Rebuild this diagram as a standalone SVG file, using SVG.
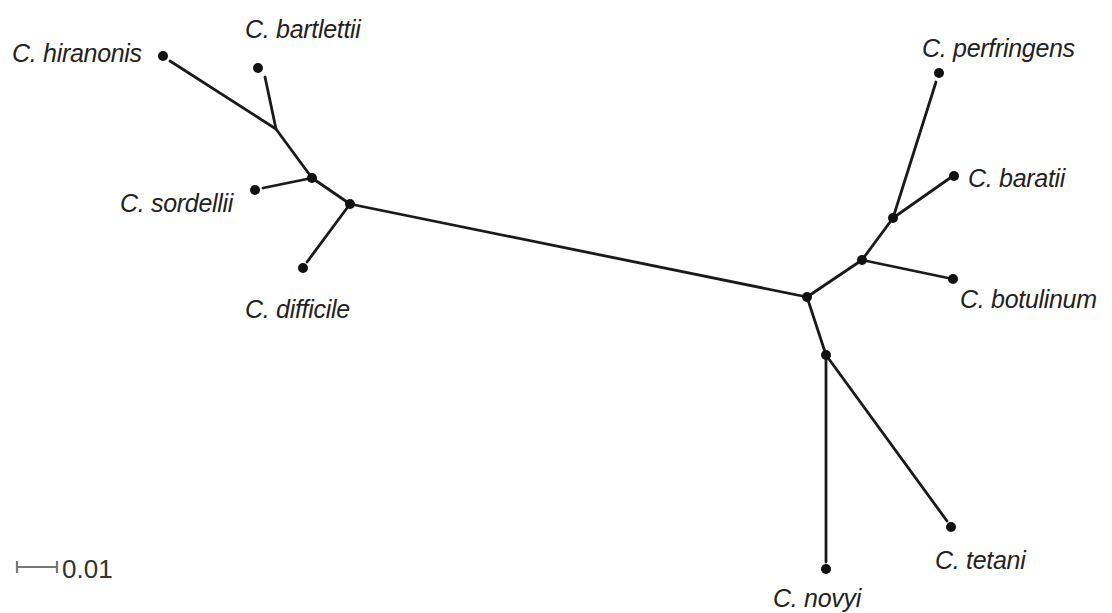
<svg xmlns="http://www.w3.org/2000/svg" width="1112" height="613" viewBox="0 0 1112 613">
<style>
.e{stroke:#1a1a1a;stroke-width:2.8;fill:none;stroke-linecap:round;stroke-linejoin:round}
.d{fill:#111}
.t{font-family:"Liberation Sans",Arial,sans-serif;font-style:italic;font-size:25px;fill:#222;letter-spacing:-0.3px}
.s{font-family:"Liberation Sans",Arial,sans-serif;font-size:26px;fill:#333}
</style>
<rect width="1112" height="613" fill="#fff"/>
<g id="connectors">
<polyline class="e" points="170,61 276,129 312,178"/>
<line class="e" x1="265" y1="77" x2="276" y2="129"/>
<line class="e" x1="263" y1="188" x2="312" y2="178"/>
<line class="e" x1="312" y1="178" x2="350" y2="204"/>
<line class="e" x1="350" y1="204" x2="307" y2="262"/>
<line class="e" x1="350" y1="204" x2="807" y2="297"/>
<line class="e" x1="807" y1="297" x2="862" y2="260"/>
<line class="e" x1="862" y1="260" x2="893" y2="218"/>
<line class="e" x1="893" y1="218" x2="936" y2="82"/>
<line class="e" x1="893" y1="218" x2="950" y2="178"/>
<line class="e" x1="862" y1="260" x2="948" y2="278"/>
<line class="e" x1="807" y1="297" x2="826" y2="355"/>
<line class="e" x1="826" y1="355" x2="826" y2="562"/>
<line class="e" x1="826" y1="355" x2="947" y2="521"/>
</g>
<g id="n-hiranonis"><circle class="d" cx="163" cy="56" r="5"/><text class="t" x="12" y="62">C. hiranonis</text></g>
<g id="n-bartlettii"><circle class="d" cx="258" cy="68" r="5"/><text class="t" x="245" y="38">C. bartlettii</text></g>
<g id="n-sordellii"><circle class="d" cx="255" cy="190" r="5"/><text class="t" x="120" y="212">C. sordellii</text></g>
<g id="n-difficile"><circle class="d" cx="303" cy="268" r="5"/><text class="t" x="245" y="318">C. difficile</text></g>
<g id="n-int1"><circle class="d" cx="312" cy="178" r="5"/></g>
<g id="n-int2"><circle class="d" cx="350" cy="204" r="5"/></g>
<g id="n-int3"><circle class="d" cx="807" cy="297" r="5"/></g>
<g id="n-int4"><circle class="d" cx="862" cy="260" r="5"/></g>
<g id="n-int5"><circle class="d" cx="893" cy="218" r="5"/></g>
<g id="n-int6"><circle class="d" cx="826" cy="355" r="5"/></g>
<g id="n-perfringens"><circle class="d" cx="939" cy="73" r="5"/><text class="t" x="922" y="57">C. perfringens</text></g>
<g id="n-baratii"><circle class="d" cx="954" cy="176" r="5"/><text class="t" x="968" y="187">C. baratii</text></g>
<g id="n-botulinum"><circle class="d" cx="953" cy="279" r="5"/><text class="t" x="960" y="308">C. botulinum</text></g>
<g id="n-tetani"><circle class="d" cx="951" cy="527" r="5"/><text class="t" x="935" y="569">C. tetani</text></g>
<g id="n-novyi"><circle class="d" cx="826" cy="569" r="5"/><text class="t" x="773" y="607">C. novyi</text></g>
<g id="scale">
<path d="M17 567H57M17 561V573M57 561V573" stroke="#777" stroke-width="2.2" fill="none"/>
<text class="s" x="62" y="578">0.01</text>
</g>
</svg>
